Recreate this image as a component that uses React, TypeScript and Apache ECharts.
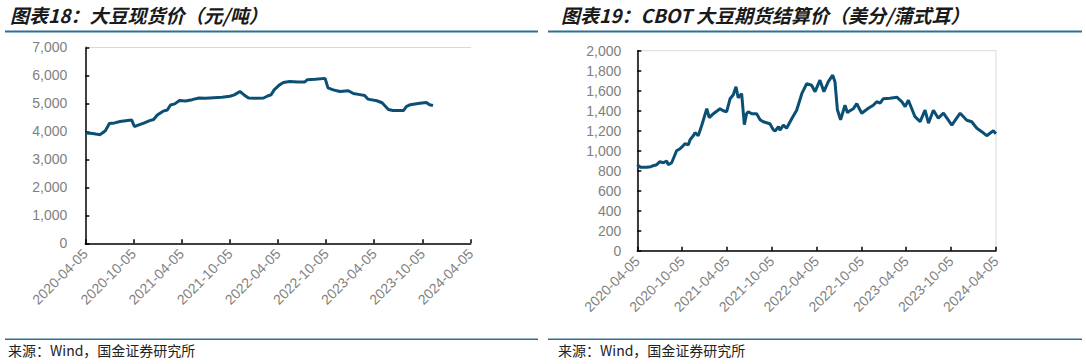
import React, { useEffect, useRef } from "react";
import * as echarts from "echarts";

// ---------- data ----------
const spotTitle = "图表18：大豆现货价（元/吨）";
const cbotTitle = "图表19：CBOT 大豆期货结算价（美分/蒲式耳）";
const sourceText = "来源：Wind，国金证券研究所";

const axisStart = "2020-04-05";
const axisEnd = "2024-04-05";
const tickSuffixes = ["-04-05", "-10-05"];

const spotDates = [
  "2020-04-05", "2020-04-25", "2020-05-15", "2020-05-31", "2020-06-10", "2020-06-20", "2020-06-28",
  "2020-07-05", "2020-07-25", "2020-08-15", "2020-09-05", "2020-09-28", "2020-10-08", "2020-10-25",
  "2020-11-15", "2020-12-05", "2020-12-20", "2021-01-03", "2021-01-25", "2021-02-10", "2021-02-22",
  "2021-03-10", "2021-03-28", "2021-04-20", "2021-05-15", "2021-06-10", "2021-07-05", "2021-08-05",
  "2021-09-05", "2021-10-05", "2021-10-22", "2021-11-12", "2021-11-28", "2021-12-15", "2022-01-10",
  "2022-02-10", "2022-02-25", "2022-03-10", "2022-03-22", "2022-04-10", "2022-04-26", "2022-05-20",
  "2022-06-20", "2022-07-15", "2022-07-25", "2022-08-25", "2022-10-01", "2022-10-12", "2022-11-01",
  "2022-11-26", "2022-12-28", "2023-01-16", "2023-02-10", "2023-02-28", "2023-03-12", "2023-04-15",
  "2023-05-05", "2023-05-29", "2023-06-15", "2023-07-25", "2023-08-05", "2023-08-20", "2023-09-25",
  "2023-10-20", "2023-11-01", "2023-11-14",
];
const spotValues = [
  3940, 3930, 3900, 3880, 3950, 4020, 4150,
  4280, 4300, 4350, 4380, 4400, 4170, 4230,
  4300, 4380, 4420, 4580, 4720, 4760, 4940,
  4980, 5100, 5080, 5130, 5190, 5180, 5200,
  5220, 5250, 5300, 5420, 5300, 5190, 5180,
  5190, 5260, 5300, 5480, 5650, 5740, 5780,
  5760, 5760, 5840, 5860, 5890, 5550, 5480,
  5420, 5450, 5350, 5310, 5280, 5150, 5090,
  5020, 4780, 4740, 4740, 4880, 4950, 5000,
  5030, 4950, 4920,
];

const cbotDates = [
  "2020-04-05", "2020-04-17", "2020-05-13", "2020-05-30", "2020-06-09", "2020-06-23", "2020-07-06",
  "2020-07-20", "2020-08-03", "2020-08-09", "2020-08-23", "2020-09-12", "2020-09-26", "2020-10-03",
  "2020-10-16", "2020-10-30", "2020-11-06", "2020-11-19", "2020-11-26", "2020-12-09", "2020-12-23",
  "2021-01-13", "2021-01-23", "2021-02-09", "2021-03-08", "2021-03-21", "2021-04-04", "2021-04-18",
  "2021-05-01", "2021-05-12", "2021-05-21", "2021-06-04", "2021-06-15", "2021-06-24", "2021-07-01",
  "2021-07-15", "2021-08-04", "2021-08-18", "2021-08-31", "2021-09-27", "2021-10-11", "2021-10-18",
  "2021-11-01", "2021-11-07", "2021-11-21", "2021-12-04", "2021-12-25", "2022-01-14", "2022-02-04",
  "2022-02-24", "2022-03-16", "2022-03-30", "2022-04-19", "2022-05-05", "2022-05-23", "2022-06-10",
  "2022-06-19", "2022-06-29", "2022-07-12", "2022-07-30", "2022-08-09", "2022-08-19", "2022-09-02",
  "2022-09-16", "2022-10-06", "2022-11-02", "2022-11-22", "2022-12-06", "2022-12-20", "2023-01-02",
  "2023-01-29", "2023-02-26", "2023-03-18", "2023-04-01", "2023-04-14", "2023-05-11", "2023-06-01",
  "2023-06-21", "2023-07-05", "2023-07-25", "2023-08-14", "2023-09-04", "2023-10-08", "2023-11-11",
  "2023-12-08", "2023-12-28", "2024-01-18", "2024-02-07", "2024-02-27", "2024-03-25", "2024-04-05",
];
const cbotValues = [
  860, 835, 835, 840, 850, 860, 890,
  880, 895, 860, 880, 1000, 1020, 1035,
  1070, 1060, 1110, 1150, 1180, 1150, 1250,
  1420, 1330, 1370, 1420, 1400, 1390, 1520,
  1560, 1640, 1530, 1570, 1260, 1370, 1390,
  1370, 1370, 1310, 1290, 1270, 1210, 1195,
  1240, 1205, 1255, 1225, 1320, 1405, 1570,
  1670, 1655, 1590, 1705, 1590, 1690, 1755,
  1690, 1410, 1310, 1455, 1380, 1400, 1420,
  1470, 1375, 1425, 1455, 1490, 1475, 1520,
  1525, 1535, 1490, 1440, 1505, 1340, 1290,
  1405, 1275, 1405, 1325, 1375, 1255, 1375,
  1305, 1290, 1225, 1190, 1150, 1200, 1170,
];

// ---------- helpers ----------
function buildDays(a: string, b: string): string[] {
  const out: string[] = [];
  const s = Date.parse(a + "T00:00:00Z");
  const e = Date.parse(b + "T00:00:00Z");
  for (let t = s; t <= e; t += 86400000) out.push(new Date(t).toISOString().slice(0, 10));
  return out;
}
const isTick = (_i: number, v: string) => tickSuffixes.some((s) => v.endsWith(s));
const fmt = (v: number) => v.toLocaleString("en-US");

const LINE_COLOR = "#0B4F75";
const RULE_COLOR = "#2F6E96";
const LABEL_COLOR = "#7f7f7f";

export default function App() {
  const ref = useRef<HTMLDivElement>(null);
  useEffect(() => {
    if (!ref.current) return;
    const chart = echarts.init(ref.current, undefined, { renderer: "svg" });
    const days = buildDays(axisStart, axisEnd);

    const xBottom = (gridIndex: number) => ({
      type: "category",
      gridIndex,
      data: days,
      boundaryGap: false,
      axisLine: { lineStyle: { color: "#000", width: 1.5 } },
      axisTick: { show: true, inside: true, length: 4, interval: isTick, lineStyle: { color: "#000", width: 1.5 } },
      axisLabel: {
        interval: isTick,
        rotate: 45,
        color: LABEL_COLOR,
        fontSize: 14,
        fontFamily: "Liberation Sans, Arial, sans-serif",
        margin: 8,
      },
      splitLine: { show: false },
    });
    const yLeft = (gridIndex: number, max: number, interval: number, margin: number) => ({
      type: "value",
      gridIndex,
      min: 0,
      max,
      interval,
      axisLine: { show: true, lineStyle: { color: "#000", width: 1.5 } },
      axisTick: { show: true, inside: true, length: 4, lineStyle: { color: "#000", width: 1.5 } },
      axisLabel: {
        color: LABEL_COLOR,
        fontSize: 14,
        fontFamily: "Liberation Sans, Arial, sans-serif",
        margin,
        formatter: fmt,
      },
      splitLine: { show: false },
    });

    const textStyleTitle = {
      fontSize: 19,
      fontStyle: "italic",
      fontWeight: "bold",
      fontFamily: "Noto Sans CJK SC, sans-serif",
      fill: "#1a1a1a",
      verticalAlign: "middle",
      align: "left",
    };
    const textStyleSource = {
      fontSize: 14,
      fontFamily: "Noto Sans CJK SC, sans-serif",
      fill: "#222",
      verticalAlign: "middle",
      align: "left",
    };

    chart.setOption({
      animation: false,
      grid: [
        { left: 85.3, top: 47.3, width: 385.4, height: 196, show: false },
        { left: 637.3, top: 50.7, width: 358.7, height: 200, show: true, borderColor: "#d9d9d9", borderWidth: 1, backgroundColor: "transparent" },
      ],
      xAxis: [
        xBottom(0),
        xBottom(1),
        {
          type: "category",
          gridIndex: 0,
          position: "top",
          data: days,
          boundaryGap: false,
          axisLine: { show: true, lineStyle: { color: "#d9d9d9", width: 1 } },
          axisTick: { show: false },
          axisLabel: { show: false },
          splitLine: { show: false },
        },
      ],
      yAxis: [yLeft(0, 7000, 1000, 18), yLeft(1, 2000, 200, 16)],
      series: [
        {
          type: "line",
          xAxisIndex: 0,
          yAxisIndex: 0,
          data: spotDates.map((d, i) => [d, spotValues[i]]),
          showSymbol: false,
          lineStyle: { color: LINE_COLOR, width: 3 },
          itemStyle: { color: LINE_COLOR },
        },
        {
          type: "line",
          xAxisIndex: 1,
          yAxisIndex: 1,
          data: cbotDates.map((d, i) => [d, cbotValues[i]]),
          showSymbol: false,
          lineStyle: { color: LINE_COLOR, width: 3 },
          itemStyle: { color: LINE_COLOR },
        },
      ],
      graphic: [
        { type: "text", x: 10, y: 14, style: { text: spotTitle, ...textStyleTitle } },
        { type: "text", x: 561, y: 14, style: { text: cbotTitle, ...textStyleTitle } },
        { type: "line", shape: { x1: 5, y1: 31.5, x2: 538, y2: 31.5 }, style: { stroke: RULE_COLOR, lineWidth: 2 } },
        { type: "line", shape: { x1: 548, y1: 31.5, x2: 1082, y2: 31.5 }, style: { stroke: RULE_COLOR, lineWidth: 2 } },
        { type: "line", shape: { x1: 5, y1: 339.3, x2: 538, y2: 339.3 }, style: { stroke: RULE_COLOR, lineWidth: 1.5 } },
        { type: "line", shape: { x1: 548, y1: 339.3, x2: 1082, y2: 339.3 }, style: { stroke: RULE_COLOR, lineWidth: 1.5 } },
        { type: "text", x: 8, y: 350, style: { text: sourceText, ...textStyleSource } },
        { type: "text", x: 558, y: 350, style: { text: sourceText, ...textStyleSource } },
      ],
    });
    return () => chart.dispose();
  }, []);
  return (
    <div
      ref={ref}
      style={{ position: "absolute", left: 0, top: 0, width: 1086, height: 364, background: "#fff" }}
    />
  );
}
